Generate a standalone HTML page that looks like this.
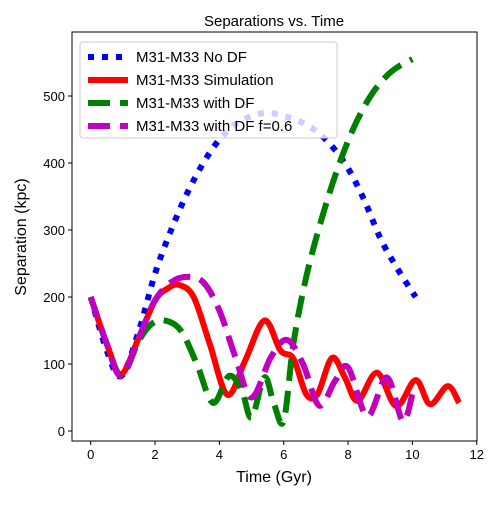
<!DOCTYPE html>
<html><head><meta charset="utf-8"><style>
body{margin:0;background:#fff}
svg{font-family:"Liberation Sans","DejaVu Sans",sans-serif}
</style></head><body>
<svg id="c" width="500" height="500"></svg>
<script>
const xTicks=[0,2,4,6,8,10,12];
const yTicks=[0,100,200,300,400,500];
const tNoDF=[0,0.5,0.95,1.5,2,2.5,3,3.5,4,4.5,5,5.5,6,6.5,7,7.5,8,8.5,9,9.5,10.1];
const vNoDF=[200,120,82,150,235,300,355,400,435,458,470,475,470,462,448,425,392,345,288,245,200];
const tSim=[0,0.5,0.95,1.5,2,2.4,2.75,3.2,3.7,4.25,4.8,5.4,5.9,6.3,6.7,7.05,7.5,7.9,8.3,8.9,9.5,10.1,10.55,11.1,11.45];
const vSim=[200,130,85,140,195,213,218,200,130,54,105,165,120,108,55,55,109,80,45,87,37,76,40,67,42];
const tDF=[0,0.5,0.95,1.5,1.9,2.3,2.8,3.3,3.8,4.3,4.7,5.0,5.4,5.7,6.0,6.3,6.7,7.2,7.7,8.2,8.7,9.2,9.6,10.0];
const vDF=[200,130,82,135,160,165,150,100,42,82,60,20,80,40,15,130,230,320,395,455,500,530,545,555];
const tF6=[0,0.5,0.95,1.5,2,2.5,3.0,3.5,4.0,4.5,5.0,5.6,6.1,6.6,7.1,7.6,8.0,8.6,9.2,9.7,10.0];
const vF6=[200,130,82,140,195,222,230,222,180,110,50,110,136,100,38,75,95,22,80,15,55];
const series=[
 {name:"M31-M33 No DF",t:tNoDF,v:vNoDF,c:"#0000ff",w:6,d:"6 8",key:"no-df"},
 {name:"M31-M33 Simulation",t:tSim,v:vSim,c:"#ff0000",w:6,d:"",key:"simulation"},
 {name:"M31-M33 with DF",t:tDF,v:vDF,c:"#008000",w:6,d:"22 10",key:"with-df"},
 {name:"M31-M33 with DF f=0.6",t:tF6,v:vF6,c:"#bf00bf",w:6,d:"22 10",key:"with-df-f06"}];
const L=72,R=477,T=32,B=441;
const X=t=>90.7+t*32.17, Y=v=>431-v*0.67;
const svg=document.getElementById('c');const NS="http://www.w3.org/2000/svg";
function mk(tag,a,p){const e=document.createElementNS(NS,tag);for(const k in a)e.setAttribute(k,a[k]);(p||svg).appendChild(e);return e;}
const cp=mk('clipPath',{id:'cl'});mk('rect',{x:L,y:T,width:R-L,height:B-T},cp);
function path(ts,vs){const p=ts.map((t,i)=>[X(t),Y(vs[i])]);let d="M"+p[0][0]+","+p[0][1];
 for(let i=0;i<p.length-1;i++){const p0=p[Math.max(0,i-1)],p1=p[i],p2=p[i+1],p3=p[Math.min(p.length-1,i+2)];
 const c1=[p1[0]+(p2[0]-p0[0])/6,p1[1]+(p2[1]-p0[1])/6],c2=[p2[0]-(p3[0]-p1[0])/6,p2[1]-(p3[1]-p1[1])/6];
 d+=` C${c1[0]},${c1[1]} ${c2[0]},${c2[1]} ${p2[0]},${p2[1]}`;}return d;}
const g=mk('g',{'clip-path':'url(#cl)'});
series.forEach(s=>{const e=mk('path',{d:path(s.t,s.v),fill:'none',stroke:s.c,'stroke-width':s.w,'stroke-dasharray':s.d},g);

});
const ax=mk('rect',{x:L,y:T,width:R-L,height:B-T,fill:'none',stroke:'#000','stroke-width':1});


xTicks.forEach(t=>{mk('line',{x1:X(t),x2:X(t),y1:B,y2:B+4,stroke:'#000'});const e=mk('text',{x:X(t),y:B+18,'font-size':13,'text-anchor':'middle'});e.textContent=t;

});
yTicks.forEach(v=>{mk('line',{x1:L-4,x2:L,y1:Y(v),y2:Y(v),stroke:'#000'});const e=mk('text',{x:L-7,y:Y(v)+5,'font-size':13,'text-anchor':'end'});e.textContent=v;

});
let e=mk('text',{x:274,y:482,'font-size':16,'text-anchor':'middle'});e.textContent="Time (Gyr)";


e=mk('text',{x:0,y:0,'font-size':16,'text-anchor':'middle',transform:'translate(26,237) rotate(-90)'});e.textContent="Separation (kpc)";


e=mk('text',{x:274,y:26,'font-size':15,'text-anchor':'middle'});e.textContent="Separations vs. Time";


const lg=mk('g',{});


mk('rect',{x:80,y:42,width:257,height:96,rx:3,fill:'#fff','fill-opacity':0.8,stroke:'#ccc'},lg);
series.forEach((s,i)=>{const y=57+i*23;
const ln=mk('line',{x1:88,x2:128,y1:y,y2:y,stroke:s.c,'stroke-width':s.w,'stroke-dasharray':s.d},lg);


const tx=mk('text',{x:136,y:y+5,'font-size':15},lg);tx.textContent=s.name;

});
</script>
</body></html>
